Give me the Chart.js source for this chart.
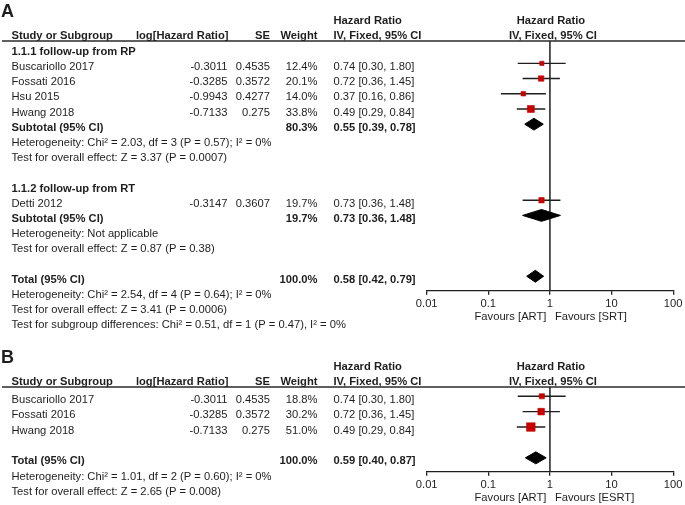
<!DOCTYPE html>
<html>
<head>
<meta charset="utf-8">
<script src="https://cdn.jsdelivr.net/npm/chart.js@4.4.0/dist/chart.umd.min.js"></script>
<style>
  body { margin:0; background:#fff; width:685px; height:505px; overflow:hidden; position:relative; }
  canvas { position:absolute; left:0; }
  #chartA { top:0; }
  #chartB { top:335px; }
</style>
</head>
<body>
<canvas id="chartA" width="685" height="335"></canvas>
<canvas id="chartB" width="685" height="170"></canvas>
<script>
// axis
const tickValues = [0.01, 0.1, 1, 10, 100];
const tickLabels = ['0.01', '0.1', '1', '10', '100'];

// A: 1.1.1 follow-up from RP
const rpStudies = ['Buscariollo 2017', 'Fossati 2016', 'Hsu 2015', 'Hwang 2018'];
const rpLogHR = [-0.3011, -0.3285, -0.9943, -0.7133];
const rpSE = [0.4535, 0.3572, 0.4277, 0.275];
const rpWeight = [12.4, 20.1, 14.0, 33.8];
const rpHR = [0.74, 0.72, 0.37, 0.49];
const rpLow = [0.30, 0.36, 0.16, 0.29];
const rpHigh = [1.80, 1.45, 0.86, 0.84];
const rpSubtotal = { weight: 80.3, hr: 0.55, low: 0.39, high: 0.78 };
const rpNotes = ['Heterogeneity: Chi² = 2.03, df = 3 (P = 0.57); I² = 0%',
                 'Test for overall effect: Z = 3.37 (P = 0.0007)'];

// A: 1.1.2 follow-up from RT
const rtStudies = ['Detti 2012'];
const rtLogHR = [-0.3147];
const rtSE = [0.3607];
const rtWeight = [19.7];
const rtHR = [0.73];
const rtLow = [0.36];
const rtHigh = [1.48];
const rtSubtotal = { weight: 19.7, hr: 0.73, low: 0.36, high: 1.48 };
const rtNotes = ['Heterogeneity: Not applicable',
                 'Test for overall effect: Z = 0.87 (P = 0.38)'];

const totalA = { weight: 100.0, hr: 0.58, low: 0.42, high: 0.79 };
const totalANotes = ['Heterogeneity: Chi² = 2.54, df = 4 (P = 0.64); I² = 0%',
                     'Test for overall effect: Z = 3.41 (P = 0.0006)',
                     'Test for subgroup differences: Chi² = 0.51, df = 1 (P = 0.47), I² = 0%'];

// B
const bStudies = ['Buscariollo 2017', 'Fossati 2016', 'Hwang 2018'];
const bLogHR = [-0.3011, -0.3285, -0.7133];
const bSE = [0.4535, 0.3572, 0.275];
const bWeight = [18.8, 30.2, 51.0];
const bHR = [0.74, 0.72, 0.49];
const bLow = [0.30, 0.36, 0.29];
const bHigh = [1.80, 1.45, 0.84];
const totalB = { weight: 100.0, hr: 0.59, low: 0.40, high: 0.87 };
const totalBNotes = ['Heterogeneity: Chi² = 1.01, df = 2 (P = 0.60); I² = 0%',
                     'Test for overall effect: Z = 2.65 (P = 0.008)'];

const INK = '#1e1e1e';
const RED = '#c80000';
const FONT = 'Arial, "Liberation Sans", sans-serif';
const FSIZE = 11.2;
const COL = { name: 11.5, log: 227.5, se: 270, weight: 317.5, hr: 333.5 };

// build table rows (row index = y value)
function studyRows(start, names, logHR, se, weight, hr, low, high) {
  return names.map((n, i) => ({ row: start + i, kind: 'study', name: n,
    log: logHR[i].toFixed(4), se: String(se[i]), w: weight[i],
    hr: hr[i], low: low[i], high: high[i] }));
}
function pooledRow(row, name, p) {
  return { row, kind: 'pooled', name, w: p.weight, hr: p.hr, low: p.low, high: p.high };
}
function noteRows(start, notes) {
  return notes.map((t, i) => ({ row: start + i, kind: 'note', name: t }));
}

const rowsA = [
  { row: 0, kind: 'title', name: '1.1.1 follow-up from RP' },
  ...studyRows(1, rpStudies, rpLogHR, rpSE, rpWeight, rpHR, rpLow, rpHigh),
  pooledRow(5, 'Subtotal (95% CI)', rpSubtotal),
  ...noteRows(6, rpNotes),
  { row: 9, kind: 'title', name: '1.1.2 follow-up from RT' },
  ...studyRows(10, rtStudies, rtLogHR, rtSE, rtWeight, rtHR, rtLow, rtHigh),
  pooledRow(11, 'Subtotal (95% CI)', rtSubtotal),
  ...noteRows(12, rtNotes),
  pooledRow(15, 'Total (95% CI)', totalA),
  ...noteRows(16, totalANotes)
];
const rowsB = [
  ...studyRows(0, bStudies, bLogHR, bSE, bWeight, bHR, bLow, bHigh),
  pooledRow(4, 'Total (95% CI)', totalB),
  ...noteRows(5, totalBNotes)
];

function hrText(r) {
  return r.hr.toFixed(2) + ' [' + r.low.toFixed(2) + ', ' + r.high.toFixed(2) + ']';
}

// table text, headers, header rule and "Favours" labels
function makeTable(letter, rows, favours) {
  return {
    id: 'table' + letter,
    afterDraw(chart) {
      const { ctx, chartArea, scales: { x, y } } = chart;
      const x1 = x.getPixelForValue(1);
      const top = chartArea.top;
      const txt = (s, px, py, align, bold, size) => {
        ctx.font = (bold ? 'bold ' : '') + (size || FSIZE) + 'px ' + FONT;
        ctx.textAlign = align;
        ctx.fillText(s, px, py);
      };
      ctx.save();
      ctx.fillStyle = INK;
      ctx.textBaseline = 'middle';
      txt(letter, 1, top - 29, 'left', true, 18);
      txt('Hazard Ratio', COL.hr, top - 20, 'left', true);
      txt('Hazard Ratio', x1 + 1, top - 20, 'center', true);
      txt('Study or Subgroup', COL.name, top - 5, 'left', true);
      txt('log[Hazard Ratio]', COL.log + 1, top - 5, 'right', true);
      txt('SE', COL.se, top - 5, 'right', true);
      txt('Weight', COL.weight, top - 5, 'right', true);
      txt('IV, Fixed, 95% CI', COL.hr, top - 5, 'left', true);
      txt('IV, Fixed, 95% CI', x1 + 3, top - 5, 'center', true);

      rows.forEach(r => {
        const py = y.getPixelForValue(r.row) + 3.5;
        const bold = r.kind === 'title' || r.kind === 'pooled';
        txt(r.name, COL.name, py, 'left', bold);
        if (r.kind === 'study') {
          txt(r.log, COL.log, py, 'right', false);
          txt(r.se, COL.se, py, 'right', false);
        }
        if (r.kind === 'study' || r.kind === 'pooled') {
          txt(r.w.toFixed(1) + '%', COL.weight, py, 'right', bold);
          txt(hrText(r), COL.hr, py, 'left', bold);
        }
      });

      const axisY = chartArea.bottom;
      txt(favours[0], x1 - 3.5, axisY + 26, 'right', false);
      txt(favours[1], x1 + 5, axisY + 26, 'left', false);

      ctx.strokeStyle = '#2a2a2a';
      ctx.lineWidth = 1.3;
      ctx.beginPath();
      ctx.moveTo(2, top);
      ctx.lineTo(chart.width, top);
      ctx.stroke();
      ctx.restore();
    }
  };
}

function buildDatasets(rows, yMin, yMax) {
  const studies = rows.filter(r => r.kind === 'study');
  const pooled = rows.filter(r => r.kind === 'pooled');
  const sets = [];
  // squares, size ~ sqrt(weight)
  sets.push({
    data: studies.map(r => ({ x: r.hr, y: r.row })),
    showLine: false, pointStyle: 'rect',
    pointRadius: studies.map(r => 1.2 * Math.sqrt(r.w) / Math.SQRT2),
    pointBackgroundColor: RED, pointBorderColor: RED, pointBorderWidth: 0.6,
    order: 0
  });
  // diamonds
  const h = 0.39;
  pooled.forEach(r => sets.push({
    data: [{ x: r.low, y: r.row }, { x: r.hr, y: r.row - h }, { x: r.high, y: r.row },
           { x: r.hr, y: r.row + h }, { x: r.low, y: r.row }],
    showLine: true, fill: 'shape', backgroundColor: '#000', borderColor: '#000',
    borderWidth: 1, pointRadius: 0, tension: 0, order: 1
  }));
  // confidence intervals
  studies.forEach(r => sets.push({
    data: [{ x: r.low, y: r.row }, { x: r.high, y: r.row }],
    showLine: true, borderColor: INK, borderWidth: 1.4, pointRadius: 0, order: 2
  }));
  // line of no effect
  sets.push({
    data: [{ x: 1, y: yMin }, { x: 1, y: yMax }],
    showLine: true, borderColor: INK, borderWidth: 1.5, pointRadius: 0, order: 3
  });
  return sets;
}

function makeChart(id, letter, rows, yMin, yMax, favours, pad, axisH) {
  return new Chart(document.getElementById(id), {
    type: 'scatter',
    data: { datasets: buildDatasets(rows, yMin, yMax) },
    options: {
      responsive: false, animation: false, events: [],
      layout: { padding: pad },
      plugins: { legend: { display: false }, tooltip: { enabled: false } },
      scales: {
        x: {
          type: 'logarithmic', min: tickValues[0], max: tickValues[tickValues.length - 1],
          afterBuildTicks: s => { s.ticks = tickValues.map(v => ({ value: v })); },
          afterFit: s => { s.height = axisH; },
          ticks: {
            autoSkip: false, maxRotation: 0, padding: 2.5, color: INK,
            font: { family: FONT, size: FSIZE },
            callback: v => tickLabels[tickValues.indexOf(v)]
          },
          grid: { drawOnChartArea: false, drawTicks: true, tickLength: 4, color: INK, lineWidth: 1.3 },
          border: { display: true, color: INK, width: 1.3 }
        },
        y: { type: 'linear', display: false, reverse: true, min: yMin, max: yMax }
      }
    },
    plugins: [makeTable(letter, rows, favours)]
  });
}

makeChart('chartA', 'A', rowsA, -0.47, 15.95, ['Favours [ART]', 'Favours [SRT]'],
  { left: 426.7, right: 11.7, top: 41, bottom: 4.3 }, 40);
makeChart('chartB', 'B', rowsB, -0.6, 4.9, ['Favours [ART]', 'Favours [ESRT]'],
  { left: 426.7, right: 11.7, top: 52, bottom: 0.3 }, 33);
</script>
</body>
</html>
